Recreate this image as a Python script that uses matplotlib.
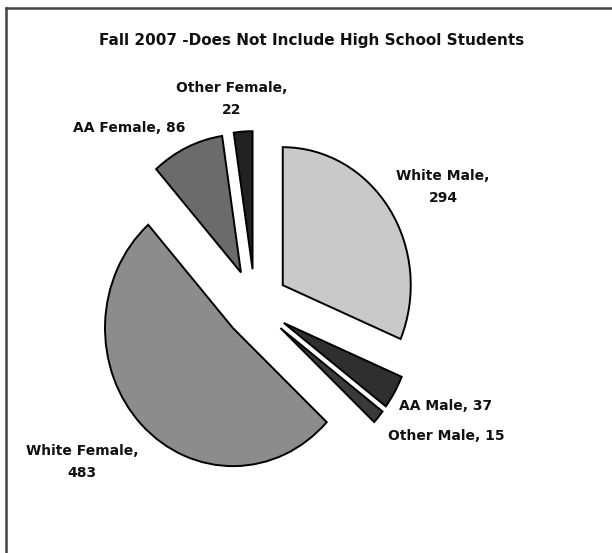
import matplotlib
matplotlib.use("Agg")
import matplotlib.pyplot as plt
from matplotlib.lines import Line2D

# Data
categories = ["White Male", "AA Male", "Other Male", "White Female", "AA Female", "Other Female"]
values = [294, 37, 15, 483, 86, 22]
title = "Fall 2007 -Does Not Include High School Students"

colors = ["#c9c9c9", "#2f2f2f", "#3a3a3a", "#8c8c8c", "#6b6b6b", "#222222"]
explode = [0.26, 0.26, 0.26, 0.24, 0.26, 0.26]

W, H = 612, 553
fig = plt.figure(figsize=(W / 100, H / 100), dpi=100)
fig.patch.set_facecolor("white")
ax = fig.add_axes([0, 0, 1, 1])

# pixel geometry of pie center / radii
cx, cy = 255, 305
rx, ry = 128, 138

ax.pie(values, colors=colors, explode=explode, startangle=90, counterclock=False,
       radius=1, center=(0, 0),
       wedgeprops=dict(edgecolor="black", linewidth=1.4))
ax.set_aspect("auto")
ax.set_xlim(-cx / rx, (W - cx) / rx)
ax.set_ylim((cy - H) / ry, cy / ry)
ax.axis("off")

def px(x, y):
    return x / W, 1 - y / H

font = dict(family=["DejaVu Sans"], fontweight="bold", color="#111111")

fig.text(*px(312, 40), title, ha="center", va="center", fontsize=11, **font)

labels = [
    (443, 187, f"{categories[0]},\n{values[0]}"),
    (446, 406, f"{categories[1]}, {values[1]}"),
    (446, 436, f"{categories[2]}, {values[2]}"),
    (82, 462, f"{categories[3]},\n{values[3]}"),
    (129, 128, f"{categories[4]}, {values[4]}"),
    (232, 99, f"{categories[5]},\n{values[5]}"),
]
for x, y, t in labels:
    fig.text(*px(x, y), t, ha="center", va="center", fontsize=10,
             linespacing=1.65, **font)

# frame lines (top and left)
fig.add_artist(Line2D([5.5 / W, 1], [1 - 7.5 / H, 1 - 7.5 / H], transform=fig.transFigure,
                      color="#444444", linewidth=1.8))
fig.add_artist(Line2D([5.5 / W, 5.5 / W], [0, 1 - 7.5 / H], transform=fig.transFigure,
                      color="#444444", linewidth=1.8))

fig.savefig("out.png", dpi=100, facecolor="white")
